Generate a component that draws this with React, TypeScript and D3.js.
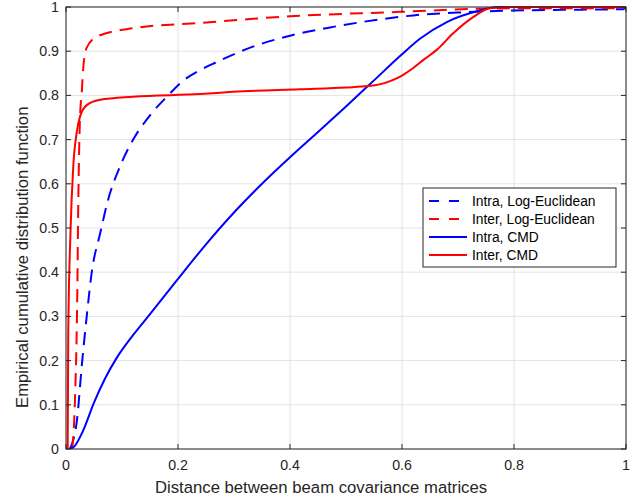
import React from "react";
import * as d3 from "d3";

type P = [number, number];

const xTicks = [0, 0.2, 0.4, 0.6, 0.8, 1];
const yTicks = [0, 0.1, 0.2, 0.3, 0.4, 0.5, 0.6, 0.7, 0.8, 0.9, 1];
const xTickLabels = ["0", "0.2", "0.4", "0.6", "0.8", "1"];
const yTickLabels = ["0", "0.1", "0.2", "0.3", "0.4", "0.5", "0.6", "0.7", "0.8", "0.9", "1"];

const intraLogEuclidean: P[] = [
  [0.007, 0], [0.02, 0.07], [0.028, 0.186], [0.037, 0.3], [0.046, 0.4], [0.061, 0.488],
  [0.075, 0.563], [0.096, 0.638], [0.12, 0.7], [0.15, 0.755], [0.18, 0.797], [0.209, 0.833],
  [0.239, 0.857], [0.27, 0.876], [0.329, 0.908], [0.4, 0.935], [0.477, 0.955], [0.561, 0.972],
  [0.62, 0.981], [0.709, 0.988], [0.8, 0.992], [0.92, 0.994], [0.995, 0.995], [1, 1],
];
const interLogEuclidean: P[] = [
  [0.011, 0], [0.016, 0.11], [0.02, 0.337], [0.022, 0.563], [0.025, 0.75], [0.028, 0.805],
  [0.031, 0.865], [0.037, 0.908], [0.055, 0.933], [0.12, 0.952], [0.24, 0.964], [0.4, 0.979],
  [0.596, 0.989], [0.74, 0.996], [0.8, 0.997], [0.99, 0.997], [1, 1],
];
const intraCMD: P[] = [
  [0.007, 0], [0.015, 0.006], [0.03, 0.04], [0.05, 0.105], [0.07, 0.16], [0.09, 0.205],
  [0.12, 0.258], [0.15, 0.305], [0.2, 0.385], [0.25, 0.463], [0.3, 0.535], [0.35, 0.6],
  [0.4, 0.66], [0.45, 0.717], [0.5, 0.775], [0.55, 0.834], [0.6, 0.893], [0.632, 0.928],
  [0.68, 0.966], [0.739, 0.992], [0.77, 1], [1, 1],
];
const interCMD: P[] = [
  [0.003, 0], [0.004, 0.26], [0.008, 0.49], [0.013, 0.64], [0.019, 0.715], [0.025, 0.752],
  [0.037, 0.778], [0.061, 0.79], [0.12, 0.797], [0.24, 0.803], [0.298, 0.808], [0.418, 0.814],
  [0.5, 0.818], [0.54, 0.821], [0.56, 0.825], [0.58, 0.833], [0.6, 0.845], [0.62, 0.862],
  [0.64, 0.882], [0.662, 0.903], [0.691, 0.94], [0.727, 0.977], [0.757, 0.997], [0.8, 1], [1, 1],
];

const seriesNames = ["Intra, Log-Euclidean", "Inter, Log-Euclidean", "Intra, CMD", "Inter, CMD"];
const seriesData = [intraLogEuclidean, interLogEuclidean, intraCMD, interCMD];
const seriesColors = ["#0000ff", "#ff0000", "#0000ff", "#ff0000"];
const seriesDashed = [true, true, false, false];

export default function App() {
  const W = 644, H = 499;
  const L = 66, R = 626, T = 7, B = 449;
  const x = d3.scaleLinear().domain([0, 1]).range([L, R]);
  const y = d3.scaleLinear().domain([0, 1]).range([B, T]);
  const line = d3.line<P>().x((d) => x(d[0])).y((d) => y(d[1])).curve(d3.curveMonotoneX);
  const font = "'Liberation Sans', Arial, Helvetica, sans-serif";
  const axisColor = "#262626";
  const gridColor = "#e3e3e3";
  const tickLen = 5;

  const lg = { x0: 423, y0: 188, x1: 616, y1: 267 };
  const lgRows = [201, 219, 237, 255];

  return (
    <svg width={W} height={H} style={{ position: "absolute", left: 0, top: 0, background: "#fff" }}>
      <defs>
        <clipPath id="plotclip">
          <rect x={L} y={T - 1} width={R - L} height={B - T + 1} />
        </clipPath>
      </defs>
      <rect x={0} y={0} width={W} height={H} fill="#fff" />
      {xTicks.map((t) => (
        <line key={"gx" + t} x1={x(t)} x2={x(t)} y1={T} y2={B} stroke={gridColor} strokeWidth={1} />
      ))}
      {yTicks.map((t) => (
        <line key={"gy" + t} x1={L} x2={R} y1={y(t)} y2={y(t)} stroke={gridColor} strokeWidth={1} />
      ))}
      <g clipPath="url(#plotclip)">
        {seriesData.map((d, i) => (
          <path
            key={i}
            d={line(d) || ""}
            fill="none"
            stroke={seriesColors[i]}
            strokeWidth={2}
            strokeDasharray={seriesDashed[i] ? "13,8" : undefined}
            strokeLinejoin="round"
          />
        ))}
      </g>
      <rect x={L} y={T} width={R - L} height={B - T} fill="none" stroke={axisColor} strokeWidth={1} />
      {xTicks.map((t) => (
        <g key={"tx" + t}>
          <line x1={x(t)} x2={x(t)} y1={B} y2={B - tickLen} stroke={axisColor} />
          <line x1={x(t)} x2={x(t)} y1={T} y2={T + tickLen} stroke={axisColor} />
        </g>
      ))}
      {yTicks.map((t) => (
        <g key={"ty" + t}>
          <line x1={L} x2={L + tickLen} y1={y(t)} y2={y(t)} stroke={axisColor} />
          <line x1={R} x2={R - tickLen} y1={y(t)} y2={y(t)} stroke={axisColor} />
        </g>
      ))}
      {xTicks.map((t, i) => (
        <text key={"lx" + t} x={x(t)} y={B + 21} textAnchor="middle" fontFamily={font} fontSize={14.2} fill={axisColor}>
          {xTickLabels[i]}
        </text>
      ))}
      {yTicks.map((t, i) => (
        <text key={"ly" + t} x={L - 7} y={y(t) + 5} textAnchor="end" fontFamily={font} fontSize={14.2} fill={axisColor}>
          {yTickLabels[i]}
        </text>
      ))}
      <text x={155} y={493} textAnchor="start" fontFamily={font} fontSize={16.7} fill={axisColor}>
        Distance between beam covariance matrices
      </text>
      <text
        transform={`translate(28, 408) rotate(-90)`}
        textAnchor="start"
        fontFamily={font}
        fontSize={16.7}
        fill={axisColor}
      >
        Empirical cumulative distribution function
      </text>
      <rect x={lg.x0} y={lg.y0} width={lg.x1 - lg.x0} height={lg.y1 - lg.y0} fill="#fff" stroke={axisColor} strokeWidth={1} />
      {seriesNames.map((n, i) => (
        <g key={"lg" + i}>
          <line
            x1={429}
            x2={467}
            y1={lgRows[i]}
            y2={lgRows[i]}
            stroke={seriesColors[i]}
            strokeWidth={2}
            strokeDasharray={seriesDashed[i] ? "10,10" : undefined}
          />
          <text x={472} y={lgRows[i] + 5} fontFamily={font} fontSize={13.8} fill="#000">
            {n}
          </text>
        </g>
      ))}
    </svg>
  );
}
